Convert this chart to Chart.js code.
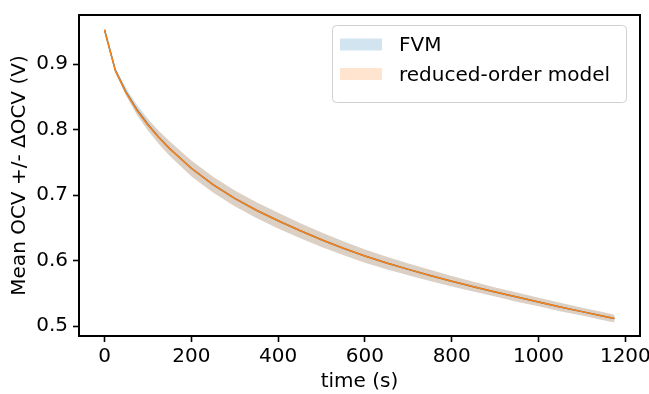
<!DOCTYPE html>
<html>
<head>
<meta charset="utf-8">
<script src="https://cdn.jsdelivr.net/npm/chart.js@4.4.0/dist/chart.umd.min.js"></script>
<style>
  html, body { margin: 0; padding: 0; background: #fff; }
</style>
</head>
<body>
<canvas id="ocvChart" width="649" height="394"></canvas>
<script>
// time axis (s) and mean OCV curves
const timeS = [0, 25, 50, 75, 100, 125, 150, 200, 250, 300, 350, 400, 450, 500, 550,
  600, 650, 700, 750, 800, 850, 900, 950, 1000, 1050, 1100, 1150, 1175];
const romMean = [0.9525, 0.8900, 0.8560, 0.8290, 0.8070, 0.7880, 0.7710, 0.7410, 0.7160,
  0.6950, 0.6770, 0.6610, 0.6460, 0.6320, 0.6190, 0.6070, 0.5965, 0.5867, 0.5775, 0.5687,
  0.5603, 0.5522, 0.5444, 0.5368, 0.5294, 0.5222, 0.5151, 0.5116];
const romDelta = [0.001, 0.003, 0.004, 0.006, 0.008, 0.010, 0.011, 0.012, 0.012, 0.012,
  0.012, 0.012, 0.0115, 0.011, 0.0105, 0.010, 0.0095, 0.009, 0.0085, 0.008, 0.0075,
  0.007, 0.007, 0.0065, 0.0065, 0.006, 0.006, 0.006];
const fvmMean = [0.9525, 0.8905, 0.8570, 0.8300, 0.8078, 0.7885, 0.7712, 0.7410, 0.7160,
  0.6950, 0.6770, 0.6610, 0.6460, 0.6320, 0.6190, 0.6070, 0.5965, 0.5867, 0.5775, 0.5687,
  0.5603, 0.5522, 0.5444, 0.5368, 0.5294, 0.5222, 0.5151, 0.5116];
const fvmDelta = [0.001, 0.004, 0.006, 0.008, 0.009, 0.010, 0.011, 0.012, 0.012, 0.012,
  0.012, 0.012, 0.0115, 0.011, 0.0105, 0.010, 0.0095, 0.009, 0.0085, 0.008, 0.0075,
  0.007, 0.007, 0.0065, 0.0065, 0.006, 0.006, 0.006];

const seriesNames = ['FVM', 'reduced-order model'];
const xTicks = [0, 200, 400, 600, 800, 1000, 1200];
const yTicks = [0.5, 0.6, 0.7, 0.8, 0.9];

const BLUE = '#1f77b4';
const ORANGE = '#ff7f0e';
const BLUE_BAND = 'rgba(31,119,180,0.2)';
const ORANGE_BAND = 'rgba(255,127,14,0.2)';
const FONT = { family: 'DejaVu Sans', size: 20 };

const pts = (vals, sign, delta) =>
  timeS.map((t, i) => ({ x: t, y: vals[i] + sign * (delta ? delta[i] : 0) }));

const bandEdge = (data, color, fill) => ({
  data, fill, backgroundColor: color, borderColor: 'transparent',
  borderWidth: 0, pointRadius: 0, tension: 0
});

// frame around the plot area (all four spines)
const framePlugin = {
  id: 'frame',
  afterDraw(chart) {
    const { ctx, chartArea: a } = chart;
    ctx.save();
    ctx.strokeStyle = '#000';
    ctx.lineWidth = 2;
    ctx.strokeRect(a.left, a.top, a.right - a.left, a.bottom - a.top);
    ctx.restore();
  }
};

// matplotlib-like legend inside the axes, upper right
const legendPlugin = {
  id: 'bandLegend',
  afterDraw(chart) {
    const { ctx } = chart;
    const colors = [BLUE_BAND, ORANGE_BAND];
    const x = 332, y = 25, w = 294, h = 77;
    ctx.save();
    ctx.beginPath();
    ctx.roundRect(x + 0.5, y + 0.5, w, h, 4);
    ctx.fillStyle = 'rgba(255,255,255,0.8)';
    ctx.fill();
    ctx.strokeStyle = '#d0d0d0';
    ctx.lineWidth = 1;
    ctx.stroke();
    ctx.font = '20px "DejaVu Sans"';
    ctx.textBaseline = 'alphabetic';
    ctx.textAlign = 'left';
    seriesNames.forEach((name, i) => {
      const cy = 44.5 + i * 29.5;
      ctx.fillStyle = colors[i];
      ctx.fillRect(340, cy - 6, 42, 12);
      ctx.fillStyle = '#000';
      ctx.fillText(name, 399, cy + 6.5);
    });
    ctx.restore();
  }
};

new Chart(document.getElementById('ocvChart'), {
  type: 'line',
  data: {
    datasets: [
      { label: seriesNames[1], data: pts(romMean, 0), borderColor: ORANGE, borderWidth: 1.5,
        pointRadius: 0, fill: false, tension: 0 },
      { label: seriesNames[0], data: pts(fvmMean, 0), borderColor: BLUE, borderWidth: 1.5,
        pointRadius: 0, fill: false, tension: 0 },
      bandEdge(pts(romMean, 1, romDelta), ORANGE_BAND, '+1'),
      bandEdge(pts(romMean, -1, romDelta), ORANGE_BAND, false),
      bandEdge(pts(fvmMean, 1, fvmDelta), BLUE_BAND, '+1'),
      bandEdge(pts(fvmMean, -1, fvmDelta), BLUE_BAND, false)
    ]
  },
  options: {
    responsive: false,
    animation: false,
    layout: { padding: { left: 0, right: 9, top: 15, bottom: 0 } },
    plugins: {
      legend: { display: false },
      tooltip: { enabled: false }
    },
    scales: {
      x: {
        type: 'linear',
        min: -58.75,
        max: 1233.75,
        afterBuildTicks: s => { s.ticks = xTicks.map(v => ({ value: v })); },
        afterFit: s => { s.height = 58; s.paddingLeft = 0; s.paddingRight = 0; },
        ticks: { color: '#000', font: FONT, padding: 3, maxRotation: 0, autoSkip: false,
          callback: v => String(v) },
        grid: { display: true, drawOnChartArea: false, drawTicks: true, tickLength: 6,
          tickColor: '#000', tickWidth: 1.6 },
        border: { display: false },
        title: { display: true, text: 'time (s)', color: '#000', font: FONT,
          padding: { top: 0, bottom: 0 } }
      },
      y: {
        type: 'linear',
        min: 0.485,
        max: 0.975,
        afterBuildTicks: s => { s.ticks = yTicks.map(v => ({ value: v })); },
        afterFit: s => { s.width = 79; s.paddingTop = 0; s.paddingBottom = 0; },
        ticks: { color: '#000', font: FONT, padding: 5, callback: v => v.toFixed(1) },
        grid: { display: true, drawOnChartArea: false, drawTicks: true, tickLength: 6,
          tickColor: '#000', tickWidth: 1.6 },
        border: { display: false },
        title: { display: true, text: 'Mean OCV +/- \u0394OCV (V)', color: '#000', font: FONT,
          padding: { top: 8, bottom: 0 } }
      }
    }
  },
  plugins: [framePlugin, legendPlugin]
});
</script>
</body>
</html>
